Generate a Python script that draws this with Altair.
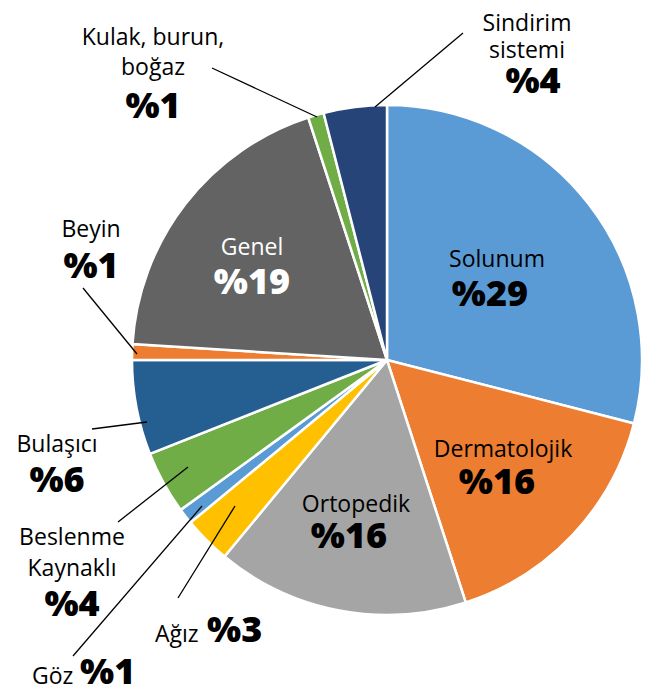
import altair as alt
import pandas as pd

# Slice data (clockwise from 12 o'clock)
categories = ["Solunum", "Dermatolojik", "Ortopedik", "Ağız", "Göz",
              "Beslenme Kaynaklı", "Bulaşıcı", "Beyin", "Genel",
              "Kulak, burun, boğaz", "Sindirim sistemi"]
values = [29, 16, 16, 3, 1, 4, 6, 1, 19, 1, 4]
colors = ["#5B9BD5", "#ED7D31", "#A5A5A5", "#FFC000", "#5B9BD5",
          "#70AD47", "#255E91", "#ED7D31", "#636363", "#70AD47", "#264478"]

OFF = 8  # page margin
CX, CY, R = 387 - OFF, 360 - OFF, 255

pie_df = pd.DataFrame({"cat": categories, "value": values,
                       "idx": list(range(len(categories)))})

RS, BS = 23, 36  # regular / bold font sizes
# label layout: text, x, y (page coords, baseline), size, weight, color, align
label_rows = [
    ("Kulak, burun,", 153, 45, RS, 400, "black", "center"),
    ("boğaz", 153, 75, RS, 400, "black", "center"),
    ("%1", 153, 118, BS, 800, "black", "center"),
    ("Sindirim", 527, 31, RS, 400, "black", "center"),
    ("sistemi", 527, 58, RS, 400, "black", "center"),
    ("%4", 533, 93, BS, 800, "black", "center"),
    ("Beyin", 91, 237, RS, 400, "black", "center"),
    ("%1", 91, 278, BS, 800, "black", "center"),
    ("Bulaşıcı", 57, 452, RS, 400, "black", "center"),
    ("%6", 57, 492, BS, 800, "black", "center"),
    ("Beslenme", 72, 545, RS, 400, "black", "center"),
    ("Kaynaklı", 72, 576, RS, 400, "black", "center"),
    ("%4", 72, 616, BS, 800, "black", "center"),
    ("Göz", 32, 684, RS, 400, "black", "left"),
    ("%1", 80, 684, BS, 800, "black", "left"),
    ("Ağız", 155, 642, RS, 400, "black", "left"),
    ("%3", 207, 642, BS, 800, "black", "left"),
    ("Genel", 252, 255, RS, 400, "white", "center"),
    ("%19", 252, 294, BS, 800, "white", "center"),
    ("Solunum", 497, 267, RS, 400, "black", "center"),
    ("%29", 490, 306, BS, 800, "black", "center"),
    ("Dermatolojik", 503, 457, RS, 400, "black", "center"),
    ("%16", 497, 494, BS, 800, "black", "center"),
    ("Ortopedik", 356, 512, RS, 400, "black", "center"),
    ("%16", 349, 548, BS, 800, "black", "center"),
]
lab_df = pd.DataFrame(label_rows, columns=["t", "x", "y", "size", "w", "c", "a"])
lab_df["x"] -= OFF
lab_df["y"] -= OFF

leader_rows = [
    (212, 68, 317, 117),
    (463, 33, 375, 107),
    (83, 288, 137, 354),
    (92, 429, 147, 422),
    (118, 522, 188, 467),
    (73, 656, 202, 506),
    (178, 598, 235, 506),
]
lead_df = pd.DataFrame(leader_rows, columns=["x", "y", "x2", "y2"]) - OFF

pie = alt.Chart(pie_df).mark_arc(outerRadius=R, stroke="white", strokeWidth=2.5).encode(
    theta=alt.Theta("value:Q", stack=True),
    order=alt.Order("idx:Q"),
    color=alt.Color("cat:N", scale=alt.Scale(domain=categories, range=colors), legend=None),
    x=alt.value(CX),
    y=alt.value(CY),
)

leaders = alt.Chart(lead_df).mark_rule(color="black", strokeWidth=1.3).encode(
    x=alt.X("x:Q", scale=None), y=alt.Y("y:Q", scale=None),
    x2="x2:Q", y2="y2:Q",
)

layers = [pie, leaders]
for (w, a, c), sub in lab_df.groupby(["w", "a", "c"]):
    size = int(sub["size"].iloc[0])
    layers.append(
        alt.Chart(sub).mark_text(font="Open Sans", fontSize=size, fontWeight=int(w),
                                 color=c, align=a, baseline="alphabetic").encode(
            x=alt.X("x:Q", scale=None), y=alt.Y("y:Q", scale=None), text="t:N")
    )

chart = alt.layer(*layers).properties(
    width=634, height=678, autosize=alt.AutoSizeParams(type="none"), padding=0
).configure_view(stroke=None)

chart.save("out.html", embed_options={"renderer": "svg", "actions": False})
